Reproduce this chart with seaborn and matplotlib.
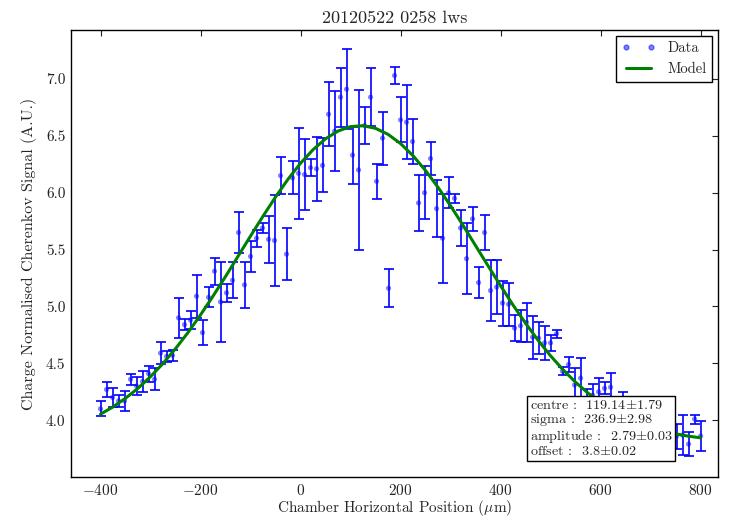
import matplotlib
matplotlib.use("Agg")
import matplotlib.pyplot as plt
from matplotlib.lines import Line2D
import pandas as pd
import seaborn as sns

# scan positions (um)
position = [-400, -388, -376, -364, -352, -340, -328, -316, -304, -292,
            -280, -268, -256, -244, -232, -220, -208, -196, -184, -172,
            -160, -148, -136, -124, -112, -100, -88, -76, -64, -52,
            -40, -28, -16, -4, 8, 20, 32, 44, 56, 68,
            80, 92, 104, 116, 128, 140, 152, 164, 176, 188,
            200, 212, 224, 236, 248, 260, 272, 284, 296, 308,
            320, 332, 344, 356, 368, 380, 392, 404, 416, 428,
            440, 452, 464, 476, 488, 500, 512, 524, 536, 548,
            560, 572, 584, 596, 608, 620, 632, 644, 656, 668,
            680, 692, 704, 716, 728, 740, 752, 764, 776, 788, 800]

signal = [4.10, 4.27, 4.20, 4.17, 4.17, 4.36, 4.30, 4.34, 4.41, 4.36,
          4.59, 4.56, 4.57, 4.90, 4.84, 4.88, 5.09, 4.77, 5.08, 5.31,
          5.04, 5.12, 5.23, 5.65, 5.19, 5.44, 5.60, 5.69, 5.59, 5.58,
          6.15, 5.46, 6.13, 6.17, 6.16, 6.22, 6.21, 6.24, 6.69, 6.54,
          6.84, 6.91, 6.33, 6.20, 6.59, 6.84, 6.10, 6.48, 5.16, 7.03,
          6.64, 6.62, 6.45, 5.91, 6.00, 6.30, 5.86, 5.60, 6.00, 5.95,
          5.69, 5.42, 5.77, 5.21, 5.65, 5.14, 5.17, 5.03, 5.02, 4.81,
          4.83, 4.86, 4.73, 4.72, 4.68, 4.68, 4.76, 4.43, 4.49, 4.31,
          4.37, 4.19, 4.22, 4.25, 4.28, 4.29, 4.10, 4.15, 4.05, 4.00,
          3.93, 3.95, 3.88, 3.92, 3.87, 3.90, 3.86, 3.87, 3.79, 4.01, 3.86]

signal_err = [0.067, 0.066, 0.083, 0.05, 0.09, 0.05, 0.08, 0.09, 0.07, 0.095,
              0.098, 0.046, 0.046, 0.175, 0.05, 0.08, 0.19, 0.11, 0.087, 0.117,
              0.35, 0.077, 0.16, 0.18, 0.20, 0.137, 0.073, 0.042, 0.205, 0.40,
              0.16, 0.226, 0.145, 0.40, 0.316, 0.073, 0.284, 0.238, 0.28, 0.35,
              0.26, 0.35, 0.25, 0.70, 0.166, 0.254, 0.153, 0.233, 0.167, 0.077,
              0.197, 0.325, 0.20, 0.25, 0.233, 0.143, 0.25, 0.39, 0.136, 0.04,
              0.156, 0.31, 0.108, 0.14, 0.15, 0.27, 0.236, 0.198, 0.19, 0.114,
              0.14, 0.17, 0.19, 0.14, 0.15, 0.07, 0.036, 0.035, 0.07, 0.15,
              0.175, 0.085, 0.10, 0.12, 0.053, 0.125, 0.08, 0.10, 0.10, 0.12,
              0.08, 0.15, 0.10, 0.09, 0.12, 0.10, 0.11, 0.175, 0.105, 0.04, 0.13]

# fitted model curve
model_x = [-400, -375, -350, -325, -300, -275, -250, -225, -200, -175,
           -150, -125, -100, -75, -50, -25, 0, 25, 50, 75,
           100, 125, 150, 175, 200, 225, 250, 275, 300, 325,
           350, 375, 400, 425, 450, 475, 500, 525, 550, 575,
           600, 625, 650, 675, 700, 725, 750, 775, 800]
model_y = [4.053, 4.117, 4.193, 4.281, 4.383, 4.499, 4.629, 4.771, 4.926, 5.091,
           5.263, 5.441, 5.619, 5.794, 5.962, 6.119, 6.259, 6.378, 6.474, 6.542,
           6.581, 6.589, 6.566, 6.513, 6.432, 6.325, 6.195, 6.047, 5.885, 5.713,
           5.535, 5.357, 5.182, 5.012, 4.852, 4.703, 4.566, 4.443, 4.334, 4.238,
           4.156, 4.085, 4.027, 3.978, 3.938, 3.906, 3.880, 3.860, 3.845]

fit_text = ("centre :  119.14$\\pm$1.79\n"
            "sigma :  236.9$\\pm$2.98\n"
            "amplitude :  2.79$\\pm$0.03\n"
            "offset :  3.8$\\pm$0.02")

data = pd.DataFrame({"pos": position, "sig": signal, "err": signal_err})
model = pd.DataFrame({"pos": model_x, "sig": model_y})

sns.set_style("white")
plt.rcParams["font.family"] = ["cmr10", "DejaVu Serif"]
plt.rcParams["mathtext.fontset"] = "cm"
plt.rcParams["axes.formatter.use_mathtext"] = True
plt.rcParams["axes.unicode_minus"] = True

fig = plt.figure(figsize=(7.32, 5.18), dpi=100)
ax = fig.add_axes([0.097, 0.079, 0.884, 0.863])

ax.errorbar(data["pos"], data["sig"], yerr=data["err"], fmt="none",
            ecolor="blue", elinewidth=1.2, capsize=3.5, capthick=1.2, zorder=2)
sns.scatterplot(data=data, x="pos", y="sig", ax=ax, color="blue", alpha=0.5,
                s=14, edgecolor="none", zorder=3, legend=False)
sns.lineplot(data=model, x="pos", y="sig", ax=ax, color="green", lw=2.2,
             zorder=4, legend=False)

ax.set_xlim(-459, 835)
ax.set_ylim(3.5, 7.43)
ax.set_xticks([-400, -200, 0, 200, 400, 600, 800])
ax.set_yticks([4.0, 4.5, 5.0, 5.5, 6.0, 6.5, 7.0])
ax.set_yticklabels(["4.0", "4.5", "5.0", "5.5", "6.0", "6.5", "7.0"])
ax.tick_params(direction="in", top=True, right=True, length=4, width=0.8,
               labelsize=11, colors="#222222", pad=4)
for s in ax.spines.values():
    s.set_color("black")
    s.set_linewidth(1.0)

ax.set_title("20120522 0258 lws", fontsize=13, pad=5)
ax.set_xlabel("Chamber Horizontal Position ($\\mu$m)", fontsize=11, labelpad=0)
ax.set_ylabel("Charge Normalised Cherenkov Signal (A.U.)", fontsize=11.5, labelpad=6)

handles = [Line2D([], [], ls="none", marker=".", color="blue", alpha=0.5, markersize=7),
           Line2D([], [], color="green", lw=2.2)]
leg = ax.legend(handles, ["Data", "Model"], loc="upper right", numpoints=2,
                fontsize=10.5, fancybox=False, framealpha=1, edgecolor="black",
                borderaxespad=0.4, handlelength=2.3)
leg.get_frame().set_linewidth(1.0)

ax.text(0.709, 0.043, fit_text, transform=ax.transAxes, ha="left", va="bottom",
        fontsize=10.2, linespacing=1.0, zorder=10,
        bbox=dict(boxstyle="square,pad=0.2", fc="white", ec="black", lw=1.0))

fig.savefig("out.png", dpi=100)
